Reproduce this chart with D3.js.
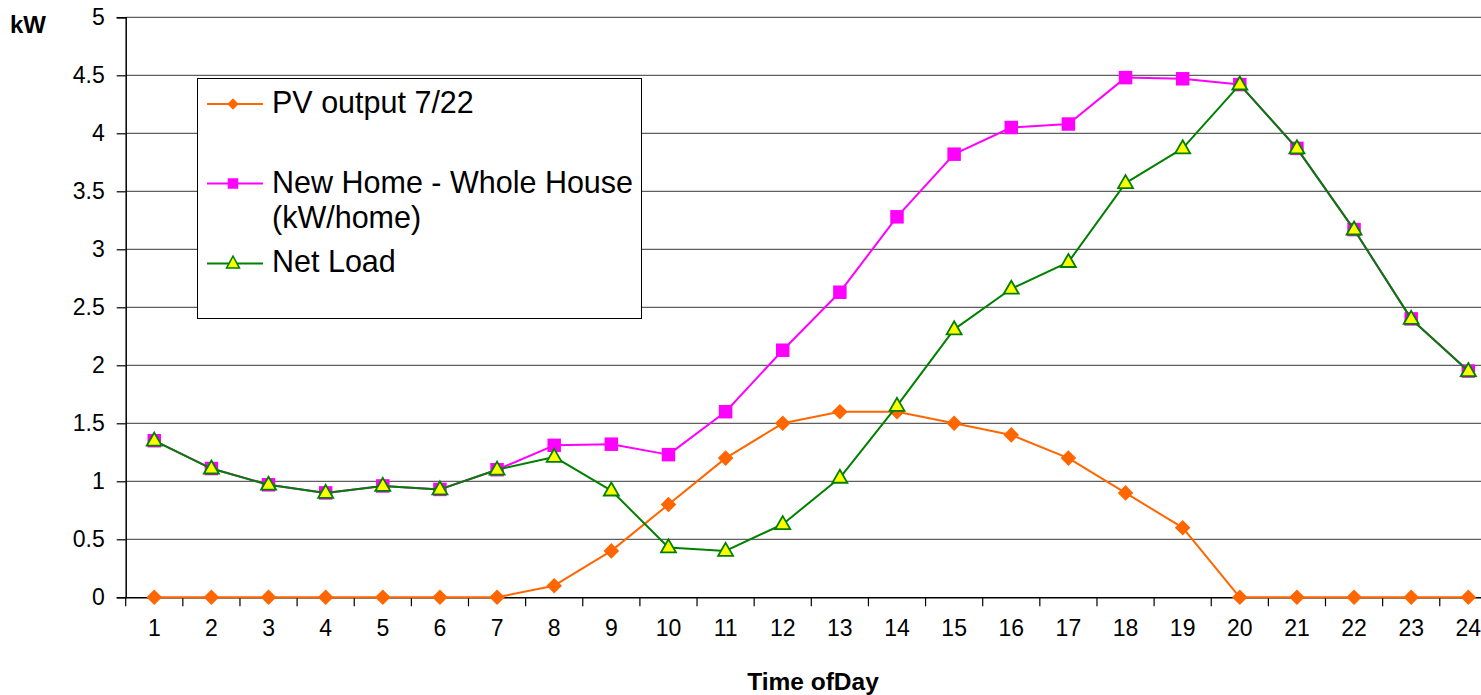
<!DOCTYPE html>
<html>
<head>
<meta charset="utf-8">
<script src="https://cdn.jsdelivr.net/npm/d3@7"></script>
<style>
  html, body { margin: 0; padding: 0; background: #fff; overflow: hidden; }
  svg { display: block; font-family: "Liberation Sans", Arial, sans-serif; }
</style>
</head>
<body>
<svg id="chart" width="1481" height="695"></svg>
<script>
// ---- Data ----
const hours = ["1","2","3","4","5","6","7","8","9","10","11","12","13","14","15","16","17","18","19","20","21","22","23","24"];
const pvOutput = [0,0,0,0,0,0,0,0.10,0.40,0.80,1.20,1.50,1.60,1.60,1.50,1.40,1.20,0.90,0.60,0,0,0,0,0];
const wholeHouse = [1.35,1.11,0.97,0.90,0.96,0.93,1.10,1.31,1.32,1.23,1.60,2.13,2.63,3.28,3.82,4.05,4.08,4.48,4.47,4.42,3.87,3.17,2.40,1.95];
const netLoad = [1.35,1.11,0.97,0.90,0.96,0.93,1.10,1.21,0.92,0.43,0.40,0.63,1.03,1.65,2.31,2.66,2.89,3.57,3.87,4.42,3.87,3.17,2.40,1.95];
const yTicks = [0,0.5,1,1.5,2,2.5,3,3.5,4,4.5,5];
const seriesNames = ["PV output 7/22", "New Home - Whole House|(kW/home)", "Net Load"];
const yLabel = "kW";
const xLabel = "Time ofDay";

// ---- Layout ----
const svg = d3.select("#chart");
const plotLeft = 125.7, plotRight = 1496.9, plotTop = 17.3, plotBottom = 597.3;

const x = d3.scaleBand().domain(hours).range([plotLeft, plotRight]).paddingInner(0).paddingOuter(0);
const xc = d => x(d) + x.bandwidth() / 2;
const y = d3.scaleLinear().domain([0, 5]).range([plotBottom, plotTop]);

// gridlines
svg.append("g").selectAll("line").data(yTicks.filter(t => t > 0)).join("line")
  .attr("x1", plotLeft).attr("x2", plotRight)
  .attr("y1", d => y(d)).attr("y2", d => y(d))
  .attr("stroke", "#5f5f5f").attr("stroke-width", 1.2);

// y axis
const yAxis = d3.axisLeft(y).tickValues(yTicks).tickSize(9).tickPadding(12).tickFormat(d3.format("~g"));
const gy = svg.append("g").attr("transform", `translate(${plotLeft},0)`).call(yAxis);
gy.select(".domain").attr("stroke", "#000").attr("stroke-width", 1.5);
gy.selectAll(".tick line").attr("stroke", "#000").attr("stroke-width", 1.2);
gy.selectAll(".tick text").attr("font-size", 23).attr("fill", "#000")
  .attr("font-family", "Liberation Sans, Arial, sans-serif");

// x axis (ticks between categories)
const xAxis = d3.axisBottom(x).tickSize(0).tickPadding(22);
const gx = svg.append("g").attr("transform", `translate(0,${plotBottom})`).call(xAxis);
gx.select(".domain").attr("stroke", "#000").attr("stroke-width", 1.5);
gx.selectAll(".tick text").attr("font-size", 23).attr("fill", "#000")
  .attr("font-family", "Liberation Sans, Arial, sans-serif");
const boundaries = hours.map(h => x(h)).concat([x(hours[hours.length - 1]) + x.bandwidth()]);
svg.append("g").selectAll("line").data(boundaries).join("line")
  .attr("x1", d => d).attr("x2", d => d)
  .attr("y1", plotBottom).attr("y2", plotBottom + 9)
  .attr("stroke", "#000").attr("stroke-width", 1.2);

// axis titles
svg.append("text").attr("x", 10).attr("y", 33).attr("font-size", 24).attr("font-weight", "bold").text(yLabel);
svg.append("text").attr("x", 813).attr("y", 690).attr("text-anchor", "middle")
  .attr("font-size", 24.5).attr("font-weight", "bold").text(xLabel);

// ---- Series ----
const line = d3.line().x((d, i) => xc(hours[i])).y(d => y(d));
const sym = (type, size) => d3.symbol().type(type).size(size)();

function drawSeries(values, color, width) {
  svg.append("path").datum(values).attr("d", line)
    .attr("fill", "none").attr("stroke", color).attr("stroke-width", width).attr("stroke-linejoin", "round");
}

// PV
drawSeries(pvOutput, "#FF6600", 2);
svg.append("g").selectAll("path").data(pvOutput).join("path")
  .attr("transform", (d, i) => `translate(${xc(hours[i])},${y(d)}) rotate(45)`)
  .attr("d", sym(d3.symbolSquare, 121)).attr("fill", "#FF6600");

// Whole house
drawSeries(wholeHouse, "#FF00FF", 2);
svg.append("g").selectAll("path").data(wholeHouse).join("path")
  .attr("transform", (d, i) => `translate(${xc(hours[i])},${y(d)})`)
  .attr("d", sym(d3.symbolSquare, 182)).attr("fill", "#FF00FF");

// Net load
drawSeries(netLoad, "#008000", 2);
const tri = (w, h) => `M0,${-h * 0.62}L${w / 2},${h * 0.38}L${-w / 2},${h * 0.38}Z`;
svg.append("g").selectAll("path").data(netLoad).join("path")
  .attr("transform", (d, i) => `translate(${xc(hours[i])},${y(d)})`)
  .attr("d", tri(15, 13)).attr("fill", "#FFFF00").attr("stroke", "#008000").attr("stroke-width", 1.8);

// ---- Legend ----
const lg = svg.append("g");
lg.append("rect").attr("x", 197.5).attr("y", 78.5).attr("width", 444).attr("height", 240)
  .attr("fill", "#fff").attr("stroke", "#000").attr("stroke-width", 1);

const legendRows = [
  { y: 104, color: "#FF6600", marker: "diamond", lines: [seriesNames[0]], base: 113 },
  { y: 183.5, color: "#FF00FF", marker: "square", lines: seriesNames[1].split("|"), base: 193 },
  { y: 263.5, color: "#008000", marker: "triangle", lines: [seriesNames[2]], base: 272 }
];
legendRows.forEach(r => {
  lg.append("line").attr("x1", 207).attr("x2", 263).attr("y1", r.y).attr("y2", r.y)
    .attr("stroke", r.color).attr("stroke-width", 2);
  if (r.marker === "diamond") {
    lg.append("path").attr("transform", `translate(233,${r.y}) rotate(45)`)
      .attr("d", sym(d3.symbolSquare, 64)).attr("fill", r.color);
  } else if (r.marker === "square") {
    lg.append("path").attr("transform", `translate(233,${r.y})`)
      .attr("d", sym(d3.symbolSquare, 110)).attr("fill", r.color);
  } else {
    lg.append("path").attr("transform", `translate(233,${r.y})`)
      .attr("d", tri(13, 12)).attr("fill", "#FFFF00").attr("stroke", r.color).attr("stroke-width", 1.5);
  }
  const t = lg.append("text").attr("x", 272).attr("y", r.base).attr("font-size", 30.5).attr("fill", "#000");
  r.lines.forEach((s, i) => {
    t.append("tspan").attr("x", 272).attr("dy", i === 0 ? 0 : 35).text(s);
  });
});
</script>
</body>
</html>
